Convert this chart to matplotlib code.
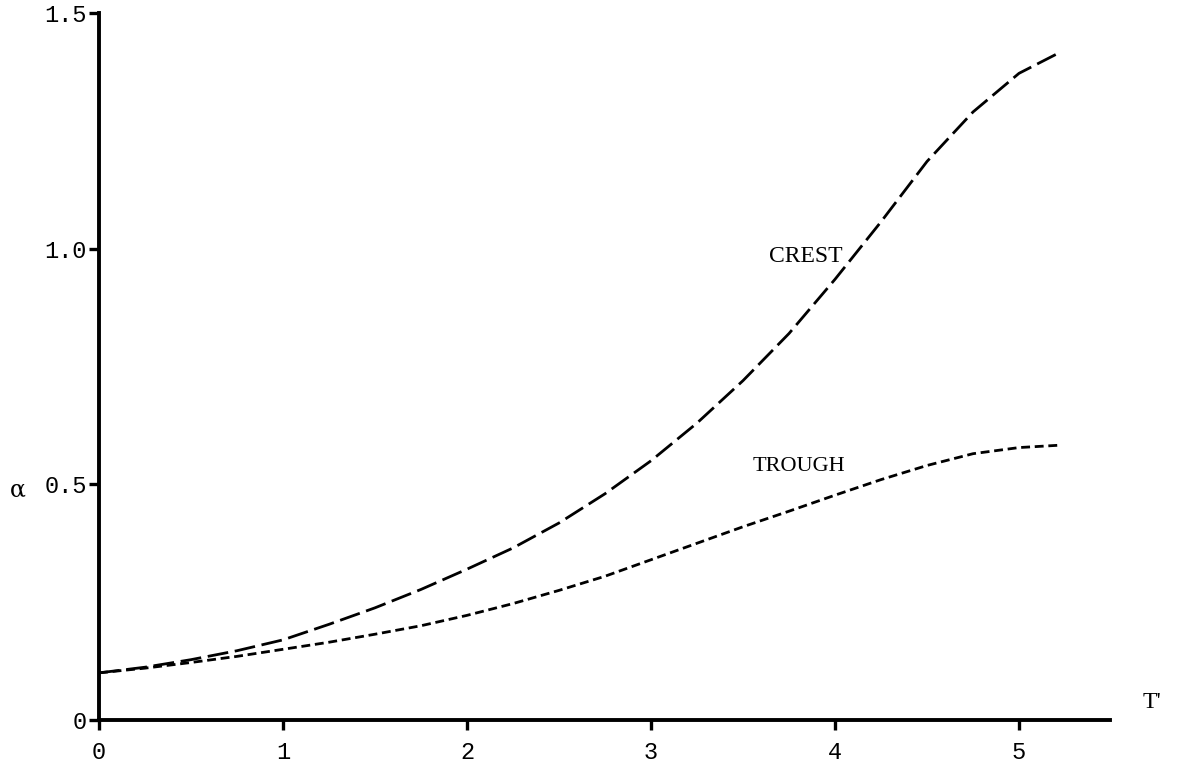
import matplotlib
matplotlib.use("Agg")
import matplotlib.pyplot as plt

# values
t_prime = [0.0, 0.25, 0.5, 0.75, 1.0, 1.25, 1.5, 1.75, 2.0, 2.25, 2.5, 2.75,
           3.0, 3.25, 3.5, 3.75, 4.0, 4.25, 4.5, 4.75, 5.0, 5.22]
crest = [0.10, 0.112, 0.128, 0.147, 0.17, 0.203, 0.238, 0.277, 0.32, 0.365, 0.418, 0.48,
         0.55, 0.63, 0.72, 0.82, 0.935, 1.057, 1.185, 1.29, 1.372, 1.416]
trough = [0.10, 0.11, 0.122, 0.135, 0.15, 0.165, 0.182, 0.20, 0.222, 0.247, 0.275, 0.305,
          0.34, 0.375, 0.41, 0.443, 0.477, 0.51, 0.54, 0.565, 0.578, 0.583]
x_ticks = [0, 1, 2, 3, 4, 5]
y_ticks = [0, 0.5, 1.0, 1.5]
y_tick_labels = ["0", "0.5", "1.0", "1.5"]

FONT = "Liberation Mono"
W, H = 1180, 765

fig = plt.figure(figsize=(W / 100, H / 100), dpi=100)
ax = fig.add_axes([99 / W, (H - 720) / H, (1110 - 99) / W, (720 - 13) / H])

ax.plot(t_prime, crest, color="black", linewidth=2.0, dashes=(7.5, 2.4))
ax.plot(t_prime, trough, color="black", linewidth=2.0, dashes=(3.2, 1.7))

ax.text(3.64, 0.983, "CREST", fontsize=17, family="Liberation Serif", va="center")
ax.text(3.55, 0.537, "TROUGH", fontsize=16, family="Liberation Serif", va="center")

ax.set_xlim(0, (1110 - 99) / 184)
ax.set_ylim(0, 1.5)
for side in ("top", "right"):
    ax.spines[side].set_visible(False)
for side in ("left", "bottom"):
    ax.spines[side].set_linewidth(2.8)

ax.set_xticks(x_ticks)
ax.set_xticklabels([str(v) for v in x_ticks], fontsize=17, family=FONT)
ax.set_yticks(y_ticks)
ax.set_yticklabels(y_tick_labels, fontsize=17, family=FONT)
ax.tick_params(axis="x", direction="out", length=7, width=2.4, pad=8)
ax.tick_params(axis="y", direction="out", length=7, width=2.4, pad=2)

fig.text(18 / W, 1 - 490 / H, "α", fontsize=17, family="DejaVu Serif",
         ha="center", va="center")
fig.text(1152 / W, 1 - 702 / H, "T'", fontsize=17, family="Liberation Serif",
         ha="center", va="center")

fig.savefig("out.png", dpi=100)
